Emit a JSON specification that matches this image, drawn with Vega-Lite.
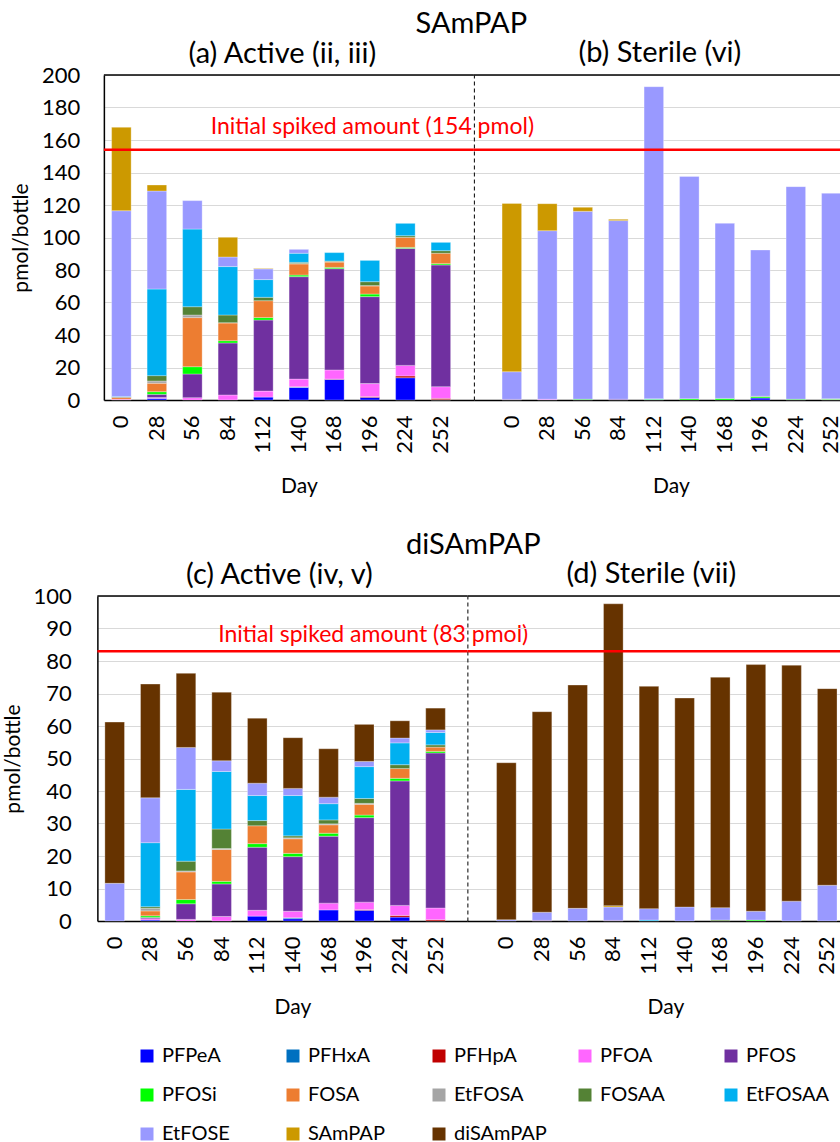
{
  "$schema": "https://vega.github.io/schema/vega-lite/v6.json",
  "padding": {"left": 2, "top": 10, "right": 0, "bottom": 0},
  "config": {
    "font": "Lato",
    "view": {"stroke": null},
    "axis": {"labelFont": "Lato", "labelFontSize": 22, "labelColor": "black", "labelOverlap": false, "titleFont": "Lato", "titleFontSize": 21, "titleFontWeight": "normal", "titleColor": "black", "gridColor": "#d9d9d9", "gridWidth": 1.2, "domainColor": "black", "domainWidth": 1.5},
    "axisX": {"ticks": false, "labelPadding": 15, "titlePadding": 22},
    "title": {"font": "Lato", "fontSize": 29, "fontWeight": "normal", "color": "black", "baseline": "alphabetic"},
    "legend": {"orient": "none", "direction": "horizontal", "legendX": 40, "legendY": 971, "padding": 0, "columns": 5, "title": null, "symbolType": "square", "symbolSize": 169, "symbolStrokeWidth": 0, "labelFont": "Lato", "labelFontSize": 20, "labelColor": "black", "labelOffset": 5, "columnPadding": 28, "rowPadding": 19, "gridAlign": "all"}
  },
  "datasets": {
    "d": [
      {"p":"TA","d":0,"k":"PFOA","v":0.5},{"p":"TA","d":0,"k":"FOSA","v":1.2},{"p":"TA","d":0,"k":"EtFOSAA","v":0.5},{"p":"TA","d":0,"k":"EtFOSE","v":114.3},{"p":"TA","d":0,"k":"SAmPAP","v":51.3},
      {"p":"TA","d":28,"k":"PFPeA","v":1.0},{"p":"TA","d":28,"k":"PFOA","v":0.5},{"p":"TA","d":28,"k":"PFOS","v":2.0},{"p":"TA","d":28,"k":"PFOSi","v":1.6},{"p":"TA","d":28,"k":"FOSA","v":5.2},{"p":"TA","d":28,"k":"EtFOSA","v":1.4},{"p":"TA","d":28,"k":"FOSAA","v":3.3},{"p":"TA","d":28,"k":"EtFOSAA","v":53.3},{"p":"TA","d":28,"k":"EtFOSE","v":60.3},{"p":"TA","d":28,"k":"SAmPAP","v":3.7},
      {"p":"TA","d":56,"k":"PFOA","v":1.4},{"p":"TA","d":56,"k":"PFOS","v":14.6},{"p":"TA","d":56,"k":"PFOSi","v":4.5},{"p":"TA","d":56,"k":"FOSA","v":30.2},{"p":"TA","d":56,"k":"EtFOSA","v":1.6},{"p":"TA","d":56,"k":"FOSAA","v":5.1},{"p":"TA","d":56,"k":"EtFOSAA","v":47.8},{"p":"TA","d":56,"k":"EtFOSE","v":17.5},
      {"p":"TA","d":84,"k":"PFOA","v":3.1},{"p":"TA","d":84,"k":"PFOS","v":32.0},{"p":"TA","d":84,"k":"PFOSi","v":1.4},{"p":"TA","d":84,"k":"FOSA","v":10.9},{"p":"TA","d":84,"k":"EtFOSA","v":0.2},{"p":"TA","d":84,"k":"FOSAA","v":4.7},{"p":"TA","d":84,"k":"EtFOSAA","v":29.8},{"p":"TA","d":84,"k":"EtFOSE","v":5.9},{"p":"TA","d":84,"k":"SAmPAP","v":12.1},
      {"p":"TA","d":112,"k":"PFPeA","v":1.8},{"p":"TA","d":112,"k":"PFOA","v":3.7},{"p":"TA","d":112,"k":"PFOS","v":43.7},{"p":"TA","d":112,"k":"PFOSi","v":1.5},{"p":"TA","d":112,"k":"FOSA","v":10.4},{"p":"TA","d":112,"k":"FOSAA","v":2.1},{"p":"TA","d":112,"k":"EtFOSAA","v":10.9},{"p":"TA","d":112,"k":"EtFOSE","v":6.6},{"p":"TA","d":112,"k":"SAmPAP","v":0.3},
      {"p":"TA","d":140,"k":"PFPeA","v":7.8},{"p":"TA","d":140,"k":"PFHxA","v":0.2},{"p":"TA","d":140,"k":"PFHpA","v":0.2},{"p":"TA","d":140,"k":"PFOA","v":4.7},{"p":"TA","d":140,"k":"PFOS","v":63.0},{"p":"TA","d":140,"k":"PFOSi","v":1.0},{"p":"TA","d":140,"k":"FOSA","v":6.8},{"p":"TA","d":140,"k":"EtFOSA","v":0.3},{"p":"TA","d":140,"k":"FOSAA","v":0.7},{"p":"TA","d":140,"k":"EtFOSAA","v":5.6},{"p":"TA","d":140,"k":"EtFOSE","v":2.4},
      {"p":"TA","d":168,"k":"PFPeA","v":12.7},{"p":"TA","d":168,"k":"PFHpA","v":0.2},{"p":"TA","d":168,"k":"PFOA","v":5.6},{"p":"TA","d":168,"k":"PFOS","v":62.3},{"p":"TA","d":168,"k":"PFOSi","v":0.8},{"p":"TA","d":168,"k":"FOSA","v":3.3},{"p":"TA","d":168,"k":"EtFOSA","v":0.2},{"p":"TA","d":168,"k":"FOSAA","v":0.4},{"p":"TA","d":168,"k":"EtFOSAA","v":5.2},
      {"p":"TA","d":196,"k":"PFPeA","v":1.6},{"p":"TA","d":196,"k":"PFHpA","v":0.5},{"p":"TA","d":196,"k":"PFOA","v":8.0},{"p":"TA","d":196,"k":"PFOS","v":53.5},{"p":"TA","d":196,"k":"PFOSi","v":1.6},{"p":"TA","d":196,"k":"FOSA","v":5.0},{"p":"TA","d":196,"k":"EtFOSA","v":0.2},{"p":"TA","d":196,"k":"FOSAA","v":2.4},{"p":"TA","d":196,"k":"EtFOSAA","v":13.1},
      {"p":"TA","d":224,"k":"PFPeA","v":13.7},{"p":"TA","d":224,"k":"PFHpA","v":1.1},{"p":"TA","d":224,"k":"PFOA","v":6.5},{"p":"TA","d":224,"k":"PFOS","v":72.0},{"p":"TA","d":224,"k":"PFOSi","v":0.6},{"p":"TA","d":224,"k":"FOSA","v":6.2},{"p":"TA","d":224,"k":"FOSAA","v":1.0},{"p":"TA","d":224,"k":"EtFOSAA","v":7.6},
      {"p":"TA","d":252,"k":"PFHxA","v":0.2},{"p":"TA","d":252,"k":"PFHpA","v":0.8},{"p":"TA","d":252,"k":"PFOA","v":7.2},{"p":"TA","d":252,"k":"PFOS","v":74.9},{"p":"TA","d":252,"k":"PFOSi","v":0.8},{"p":"TA","d":252,"k":"FOSA","v":6.4},{"p":"TA","d":252,"k":"FOSAA","v":1.6},{"p":"TA","d":252,"k":"EtFOSAA","v":5.1},

      {"p":"TS","d":0,"k":"PFOS","v":0.4},{"p":"TS","d":0,"k":"EtFOSE","v":17.0},{"p":"TS","d":0,"k":"SAmPAP","v":103.6},
      {"p":"TS","d":28,"k":"PFOA","v":0.5},{"p":"TS","d":28,"k":"EtFOSE","v":103.7},{"p":"TS","d":28,"k":"SAmPAP","v":16.6},
      {"p":"TS","d":56,"k":"PFOSi","v":0.5},{"p":"TS","d":56,"k":"EtFOSE","v":115.6},{"p":"TS","d":56,"k":"SAmPAP","v":2.5},
      {"p":"TS","d":84,"k":"PFOS","v":0.5},{"p":"TS","d":84,"k":"EtFOSE","v":109.9},{"p":"TS","d":84,"k":"SAmPAP","v":0.8},
      {"p":"TS","d":112,"k":"PFOSi","v":0.4},{"p":"TS","d":112,"k":"EtFOSAA","v":0.4},{"p":"TS","d":112,"k":"EtFOSE","v":192.0},
      {"p":"TS","d":140,"k":"PFOSi","v":0.8},{"p":"TS","d":140,"k":"EtFOSE","v":136.8},
      {"p":"TS","d":168,"k":"PFOSi","v":1.0},{"p":"TS","d":168,"k":"EtFOSE","v":107.7},
      {"p":"TS","d":196,"k":"PFPeA","v":1.2},{"p":"TS","d":196,"k":"PFOSi","v":0.8},{"p":"TS","d":196,"k":"FOSAA","v":0.3},{"p":"TS","d":196,"k":"EtFOSE","v":90.0},
      {"p":"TS","d":224,"k":"PFOSi","v":0.5},{"p":"TS","d":224,"k":"EtFOSE","v":130.8},
      {"p":"TS","d":252,"k":"PFOA","v":0.3},{"p":"TS","d":252,"k":"PFOSi","v":0.5},{"p":"TS","d":252,"k":"EtFOSE","v":126.4},

      {"p":"BA","d":0,"k":"EtFOSE","v":11.6},{"p":"BA","d":0,"k":"diSAmPAP","v":49.6},
      {"p":"BA","d":28,"k":"PFPeA","v":0.3},{"p":"BA","d":28,"k":"PFOA","v":0.4},{"p":"BA","d":28,"k":"PFOS","v":0.4},{"p":"BA","d":28,"k":"PFOSi","v":0.5},{"p":"BA","d":28,"k":"FOSA","v":1.5},{"p":"BA","d":28,"k":"EtFOSA","v":0.8},{"p":"BA","d":28,"k":"FOSAA","v":0.5},{"p":"BA","d":28,"k":"EtFOSAA","v":19.7},{"p":"BA","d":28,"k":"EtFOSE","v":13.8},{"p":"BA","d":28,"k":"diSAmPAP","v":35.0},
      {"p":"BA","d":56,"k":"PFOA","v":0.5},{"p":"BA","d":56,"k":"PFOS","v":4.8},{"p":"BA","d":56,"k":"PFOSi","v":1.3},{"p":"BA","d":56,"k":"FOSA","v":8.5},{"p":"BA","d":56,"k":"EtFOSA","v":0.3},{"p":"BA","d":56,"k":"FOSAA","v":3.0},{"p":"BA","d":56,"k":"EtFOSAA","v":22.1},{"p":"BA","d":56,"k":"EtFOSE","v":12.9},{"p":"BA","d":56,"k":"diSAmPAP","v":22.8},
      {"p":"BA","d":84,"k":"PFOA","v":1.4},{"p":"BA","d":84,"k":"PFOS","v":10.0},{"p":"BA","d":84,"k":"PFOSi","v":0.8},{"p":"BA","d":84,"k":"FOSA","v":9.8},{"p":"BA","d":84,"k":"EtFOSA","v":0.3},{"p":"BA","d":84,"k":"FOSAA","v":6.0},{"p":"BA","d":84,"k":"EtFOSAA","v":17.7},{"p":"BA","d":84,"k":"EtFOSE","v":3.3},{"p":"BA","d":84,"k":"diSAmPAP","v":21.1},
      {"p":"BA","d":112,"k":"PFPeA","v":1.5},{"p":"BA","d":112,"k":"PFOA","v":1.8},{"p":"BA","d":112,"k":"PFOS","v":19.4},{"p":"BA","d":112,"k":"PFOSi","v":1.1},{"p":"BA","d":112,"k":"FOSA","v":5.5},{"p":"BA","d":112,"k":"FOSAA","v":1.6},{"p":"BA","d":112,"k":"EtFOSAA","v":7.7},{"p":"BA","d":112,"k":"EtFOSE","v":3.8},{"p":"BA","d":112,"k":"diSAmPAP","v":20.0},
      {"p":"BA","d":140,"k":"PFPeA","v":0.7},{"p":"BA","d":140,"k":"PFHxA","v":0.3},{"p":"BA","d":140,"k":"PFOA","v":2.0},{"p":"BA","d":140,"k":"PFOS","v":16.8},{"p":"BA","d":140,"k":"PFOSi","v":1.0},{"p":"BA","d":140,"k":"FOSA","v":4.5},{"p":"BA","d":140,"k":"EtFOSA","v":0.3},{"p":"BA","d":140,"k":"FOSAA","v":0.6},{"p":"BA","d":140,"k":"EtFOSAA","v":12.4},{"p":"BA","d":140,"k":"EtFOSE","v":2.2},{"p":"BA","d":140,"k":"diSAmPAP","v":15.6},
      {"p":"BA","d":168,"k":"PFPeA","v":3.4},{"p":"BA","d":168,"k":"PFOA","v":2.1},{"p":"BA","d":168,"k":"PFOS","v":20.6},{"p":"BA","d":168,"k":"PFOSi","v":0.9},{"p":"BA","d":168,"k":"FOSA","v":2.6},{"p":"BA","d":168,"k":"EtFOSA","v":0.3},{"p":"BA","d":168,"k":"FOSAA","v":1.2},{"p":"BA","d":168,"k":"EtFOSAA","v":5.0},{"p":"BA","d":168,"k":"EtFOSE","v":2.0},{"p":"BA","d":168,"k":"diSAmPAP","v":14.9},
      {"p":"BA","d":196,"k":"PFPeA","v":3.3},{"p":"BA","d":196,"k":"PFHpA","v":0.2},{"p":"BA","d":196,"k":"PFOA","v":2.3},{"p":"BA","d":196,"k":"PFOS","v":26.0},{"p":"BA","d":196,"k":"PFOSi","v":0.8},{"p":"BA","d":196,"k":"FOSA","v":3.3},{"p":"BA","d":196,"k":"EtFOSA","v":0.3},{"p":"BA","d":196,"k":"FOSAA","v":1.5},{"p":"BA","d":196,"k":"EtFOSAA","v":9.8},{"p":"BA","d":196,"k":"EtFOSE","v":1.6},{"p":"BA","d":196,"k":"diSAmPAP","v":11.4},
      {"p":"BA","d":224,"k":"PFPeA","v":1.2},{"p":"BA","d":224,"k":"PFHpA","v":0.5},{"p":"BA","d":224,"k":"PFOA","v":3.1},{"p":"BA","d":224,"k":"PFOS","v":38.3},{"p":"BA","d":224,"k":"PFOSi","v":0.8},{"p":"BA","d":224,"k":"FOSA","v":3.0},{"p":"BA","d":224,"k":"FOSAA","v":1.2},{"p":"BA","d":224,"k":"EtFOSAA","v":6.7},{"p":"BA","d":224,"k":"EtFOSE","v":1.5},{"p":"BA","d":224,"k":"diSAmPAP","v":5.3},
      {"p":"BA","d":252,"k":"PFHpA","v":0.4},{"p":"BA","d":252,"k":"PFOA","v":3.6},{"p":"BA","d":252,"k":"PFOS","v":47.7},{"p":"BA","d":252,"k":"PFOSi","v":0.5},{"p":"BA","d":252,"k":"FOSA","v":1.3},{"p":"BA","d":252,"k":"FOSAA","v":0.7},{"p":"BA","d":252,"k":"EtFOSAA","v":3.8},{"p":"BA","d":252,"k":"EtFOSE","v":0.8},{"p":"BA","d":252,"k":"diSAmPAP","v":6.7},

      {"p":"BS","d":0,"k":"EtFOSE","v":0.4},{"p":"BS","d":0,"k":"diSAmPAP","v":48.3},
      {"p":"BS","d":28,"k":"PFOS","v":0.2},{"p":"BS","d":28,"k":"EtFOSE","v":2.5},{"p":"BS","d":28,"k":"diSAmPAP","v":61.7},
      {"p":"BS","d":56,"k":"EtFOSE","v":3.9},{"p":"BS","d":56,"k":"diSAmPAP","v":68.7},
      {"p":"BS","d":84,"k":"PFOS","v":0.2},{"p":"BS","d":84,"k":"EtFOSE","v":4.1},{"p":"BS","d":84,"k":"SAmPAP","v":0.4},{"p":"BS","d":84,"k":"diSAmPAP","v":92.9},
      {"p":"BS","d":112,"k":"EtFOSAA","v":0.3},{"p":"BS","d":112,"k":"EtFOSE","v":3.5},{"p":"BS","d":112,"k":"diSAmPAP","v":68.4},
      {"p":"BS","d":140,"k":"EtFOSE","v":4.3},{"p":"BS","d":140,"k":"diSAmPAP","v":64.3},
      {"p":"BS","d":168,"k":"FOSAA","v":0.3},{"p":"BS","d":168,"k":"EtFOSE","v":3.8},{"p":"BS","d":168,"k":"diSAmPAP","v":70.9},
      {"p":"BS","d":196,"k":"PFOSi","v":0.3},{"p":"BS","d":196,"k":"EtFOSE","v":2.7},{"p":"BS","d":196,"k":"diSAmPAP","v":75.9},
      {"p":"BS","d":224,"k":"EtFOSE","v":6.1},{"p":"BS","d":224,"k":"diSAmPAP","v":72.6},
      {"p":"BS","d":252,"k":"EtFOSE","v":11.0},{"p":"BS","d":252,"k":"diSAmPAP","v":60.5}
    ]
  },
  "center": true,
  "spacing": 34,
  "vconcat": [
    {
      "title": {"text": "SAmPAP", "anchor": "middle", "dx": 41, "offset": 0},
      "spacing": 0,
      "bounds": "flush",
      "hconcat": [
        {
          "width": 370, "height": 325,
          "title": {"text": "(a) Active (ii, iii)", "frame": "group", "anchor": "middle", "dx": -6.5, "offset": -5},
          "encoding": {"y": {"field": "v", "type": "quantitative", "scale": {"domain": [0, 200], "nice": false}, "axis": {"title": "pmol/bottle", "values": [0,20,40,60,80,100,120,140,160,180,200], "labelOverlap": false, "ticks": true, "tickSize": 20, "tickOpacity": 0, "labelPadding": 4, "titlePadding": 10}}},
          "layer": [
            {
              "data": {"name": "d"},
              "transform": [{"filter": "datum.p == 'TA'"}, {"calculate": "indexof(['PFPeA','PFHxA','PFHpA','PFOA','PFOS','PFOSi','FOSA','EtFOSA','FOSAA','EtFOSAA','EtFOSE','SAmPAP','diSAmPAP'], datum.k)", "as": "o"}],
              "mark": {"type": "bar", "stroke": "#ffffff", "strokeWidth": 0.6, "strokeOpacity": 0.5},
              "encoding": {
                "x": {"field": "d", "type": "ordinal", "scale": {"domain": [0,28,56,84,112,140,168,196,224,252], "paddingInner": 0.45, "paddingOuter": 0.4365, "align": 0.25}, "axis": {"title": "Day", "labelAngle": -90, "titleX": 195}},
                "color": {"field": "k", "type": "nominal", "scale": {"domain": ["PFPeA","PFHxA","PFHpA","PFOA","PFOS","PFOSi","FOSA","EtFOSA","FOSAA","EtFOSAA","EtFOSE","SAmPAP","diSAmPAP"], "range": ["#0000FF","#0070C0","#C00000","#FF66FF","#7030A0","#00FF00","#ED7D31","#A5A5A5","#548235","#00B0F0","#9999FF","#CC9900","#663300"]}},
                "order": {"field": "o", "type": "quantitative"}
              }
            },
            {"data": {"values": [{"v": 200}]}, "mark": {"type": "rule", "color": "black", "strokeWidth": 1.5}, "encoding": {}},
            {"data": {"values": [{"v": 154}]}, "mark": {"type": "rule", "color": "#ff0000", "strokeWidth": 2.5}, "encoding": {}},
            {"data": {"values": [{"v": 154, "d": 196, "t": "Initial spiked amount (154 pmol)"}]}, "mark": {"type": "text", "color": "#ff0000", "fontSize": 23, "font": "Lato", "baseline": "alphabetic", "dy": -16, "dx": 2.5}, "encoding": {"x": {"field": "d", "type": "ordinal"}, "text": {"field": "t"}}}
          ]
        },
        {
          "width": 375, "height": 325,
          "title": {"text": "(b) Sterile (vi)", "frame": "group", "anchor": "middle", "dx": -1.5, "offset": 6},
          "encoding": {"y": {"field": "v", "type": "quantitative", "scale": {"domain": [0, 200], "nice": false}, "axis": {"title": null, "labels": false, "ticks": false, "values": [0,20,40,60,80,100,120,140,160,180,200], "domainDash": [4, 3], "domainWidth": 1}}},
          "layer": [
            {
              "data": {"name": "d"},
              "transform": [{"filter": "datum.p == 'TS'"}, {"calculate": "indexof(['PFPeA','PFHxA','PFHpA','PFOA','PFOS','PFOSi','FOSA','EtFOSA','FOSAA','EtFOSAA','EtFOSE','SAmPAP','diSAmPAP'], datum.k)", "as": "o"}],
              "mark": {"type": "bar", "stroke": "#ffffff", "strokeWidth": 0.6, "strokeOpacity": 0.5},
              "encoding": {
                "x": {"field": "d", "type": "ordinal", "scale": {"domain": [0,28,56,84,112,140,168,196,224,252], "paddingInner": 0.45, "paddingOuter": 0.5065, "align": 0.784}, "axis": {"title": "Day", "labelAngle": -90, "titleX": 197}},
                "color": {"field": "k", "type": "nominal", "scale": {"domain": ["PFPeA","PFHxA","PFHpA","PFOA","PFOS","PFOSi","FOSA","EtFOSA","FOSAA","EtFOSAA","EtFOSE","SAmPAP","diSAmPAP"], "range": ["#0000FF","#0070C0","#C00000","#FF66FF","#7030A0","#00FF00","#ED7D31","#A5A5A5","#548235","#00B0F0","#9999FF","#CC9900","#663300"]}},
                "order": {"field": "o", "type": "quantitative"}
              }
            },
            {"data": {"values": [{"v": 200}]}, "mark": {"type": "rule", "color": "black", "strokeWidth": 1.5}, "encoding": {}},
            {"data": {"values": [{"v": 154}]}, "mark": {"type": "rule", "color": "#ff0000", "strokeWidth": 2.5}, "encoding": {}}
          ]
        }
      ]
    },
    {
      "title": {"text": "diSAmPAP", "anchor": "middle", "dx": 44, "offset": 0},
      "spacing": 0,
      "bounds": "flush",
      "hconcat": [
        {
          "width": 370, "height": 325,
          "title": {"text": "(c) Active (iv, v)", "frame": "group", "anchor": "middle", "dx": -3, "offset": -5},
          "encoding": {"y": {"field": "v", "type": "quantitative", "scale": {"domain": [0, 100], "nice": false}, "axis": {"title": "pmol/bottle", "values": [0,10,20,30,40,50,60,70,80,90,100], "labelOverlap": false, "ticks": true, "tickSize": 22, "tickOpacity": 0, "labelPadding": 4, "titlePadding": 10}}},
          "layer": [
            {
              "data": {"name": "d"},
              "transform": [{"filter": "datum.p == 'BA'"}, {"calculate": "indexof(['PFPeA','PFHxA','PFHpA','PFOA','PFOS','PFOSi','FOSA','EtFOSA','FOSAA','EtFOSAA','EtFOSE','SAmPAP','diSAmPAP'], datum.k)", "as": "o"}],
              "mark": {"type": "bar", "stroke": "#ffffff", "strokeWidth": 0.6, "strokeOpacity": 0.5},
              "encoding": {
                "x": {"field": "d", "type": "ordinal", "scale": {"domain": [0,28,56,84,112,140,168,196,224,252], "paddingInner": 0.45, "paddingOuter": 0.4145, "align": 0.254}, "axis": {"title": "Day", "labelAngle": -90, "titleX": 195}},
                "color": {"field": "k", "type": "nominal", "scale": {"domain": ["PFPeA","PFHxA","PFHpA","PFOA","PFOS","PFOSi","FOSA","EtFOSA","FOSAA","EtFOSAA","EtFOSE","SAmPAP","diSAmPAP"], "range": ["#0000FF","#0070C0","#C00000","#FF66FF","#7030A0","#00FF00","#ED7D31","#A5A5A5","#548235","#00B0F0","#9999FF","#CC9900","#663300"]}},
                "order": {"field": "o", "type": "quantitative"}
              }
            },
            {"data": {"values": [{"v": 100}]}, "mark": {"type": "rule", "color": "black", "strokeWidth": 1.5}, "encoding": {}},
            {"data": {"values": [{"v": 83}]}, "mark": {"type": "rule", "color": "#ff0000", "strokeWidth": 2.5}, "encoding": {}},
            {"data": {"values": [{"v": 83, "d": 196, "t": "Initial spiked amount (83 pmol)"}]}, "mark": {"type": "text", "color": "#ff0000", "fontSize": 23, "font": "Lato", "baseline": "alphabetic", "dy": -9, "dx": 9}, "encoding": {"x": {"field": "d", "type": "ordinal"}, "text": {"field": "t"}}}
          ]
        },
        {
          "width": 388, "height": 325,
          "title": {"text": "(d) Sterile (vii)", "frame": "group", "anchor": "middle", "dx": -10, "offset": 6},
          "encoding": {"y": {"field": "v", "type": "quantitative", "scale": {"domain": [0, 100], "nice": false}, "axis": {"title": null, "labels": false, "ticks": false, "values": [0,10,20,30,40,50,60,70,80,90,100], "domainDash": [4, 3], "domainWidth": 1}}},
          "layer": [
            {
              "data": {"name": "d"},
              "transform": [{"filter": "datum.p == 'BS'"}, {"calculate": "indexof(['PFPeA','PFHxA','PFHpA','PFOA','PFOS','PFOSi','FOSA','EtFOSA','FOSAA','EtFOSAA','EtFOSE','SAmPAP','diSAmPAP'], datum.k)", "as": "o"}],
              "mark": {"type": "bar", "stroke": "#ffffff", "strokeWidth": 0.6, "strokeOpacity": 0.5},
              "encoding": {
                "x": {"field": "d", "type": "ordinal", "scale": {"domain": [0,28,56,84,112,140,168,196,224,252], "paddingInner": 0.45, "paddingOuter": 0.667, "align": 0.614}, "axis": {"title": "Day", "labelAngle": -90, "titleX": 198}},
                "color": {"field": "k", "type": "nominal", "scale": {"domain": ["PFPeA","PFHxA","PFHpA","PFOA","PFOS","PFOSi","FOSA","EtFOSA","FOSAA","EtFOSAA","EtFOSE","SAmPAP","diSAmPAP"], "range": ["#0000FF","#0070C0","#C00000","#FF66FF","#7030A0","#00FF00","#ED7D31","#A5A5A5","#548235","#00B0F0","#9999FF","#CC9900","#663300"]}},
                "order": {"field": "o", "type": "quantitative"}
              }
            },
            {"data": {"values": [{"v": 100}]}, "mark": {"type": "rule", "color": "black", "strokeWidth": 1.5}, "encoding": {}},
            {"data": {"values": [{"v": 83}]}, "mark": {"type": "rule", "color": "#ff0000", "strokeWidth": 2.5}, "encoding": {}}
          ]
        }
      ]
    }
  ]
}
